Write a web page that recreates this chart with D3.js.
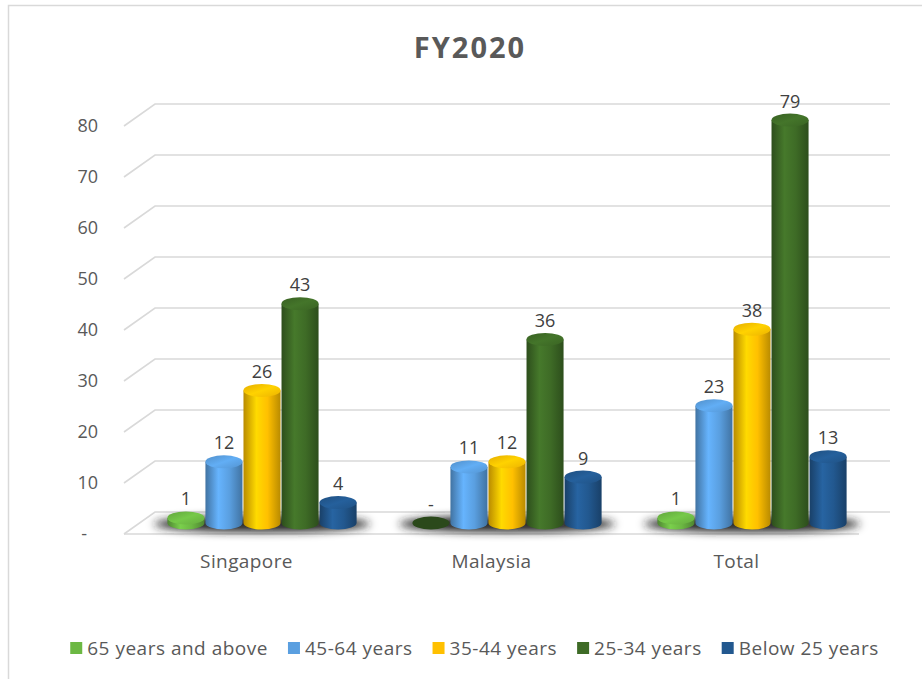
<!DOCTYPE html>
<html>
<head>
<meta charset="utf-8">
<script src="https://cdn.jsdelivr.net/npm/d3@7"></script>
<style>
  body { margin: 0; background: #fff; }
  text { font-family: "Open Sans", sans-serif; }
</style>
</head>
<body>
<svg width="922" height="679"></svg>
<script>
// data
const categories = ['Singapore', 'Malaysia', 'Total'];
const seriesNames = ['65 years and above', '45-64 years', '35-44 years', '25-34 years', 'Below 25 years'];
const above65 = [1, 0, 1];
const age45to64 = [12, 11, 23];
const age35to44 = [26, 12, 38];
const age25to34 = [43, 36, 79];
const below25 = [4, 9, 13];
const yTicks = [0, 10, 20, 30, 40, 50, 60, 70, 80];
const seriesColors = ['#6cb843', '#5a9fe0', '#ffc000', '#3e6b26', '#22588f'];

const seriesValues = [above65, age45to64, age35to44, age25to34, below25];

const svg = d3.select('svg');

// 3d box: back wall + depth offset towards the viewer
const depthX = -31, depthY = 22;
const midX = depthX / 2, midY = depthY / 2;
const ry = 6.5;

const x = d3.scaleBand().domain(categories).range([155, 890]);
const xs = d3.scaleBand().domain(seriesNames)
  .range([0, x.bandwidth()])
  .paddingInner(0).paddingOuter(0.72);
const y = d3.scaleLinear().domain([0, 80]).range([512, 104]);

// frame (right/bottom run off the picture)
svg.append('rect')
  .attr('x', 8.5).attr('y', 5.5)
  .attr('width', 940).attr('height', 700)
  .attr('fill', '#fff').attr('stroke', '#d9d9d9').attr('stroke-width', 1.5);

const defs = svg.append('defs');
defs.append('filter').attr('id', 'blur')
  .attr('x', '-30%').attr('y', '-200%').attr('width', '160%').attr('height', '500%')
  .append('feGaussianBlur').attr('stdDeviation', 4);

seriesColors.forEach((c, i) => {
  const base = d3.color(c);
  const g = defs.append('linearGradient').attr('id', 'body' + i)
    .attr('x1', 0).attr('x2', 1).attr('y1', 0).attr('y2', 0);
  [[0, base.darker(0.9)], [0.35, base.brighter(0.35)], [0.65, base], [1, base.darker(0.9)]]
    .forEach(s => g.append('stop').attr('offset', s[0]).attr('stop-color', s[1]));
  const t = defs.append('linearGradient').attr('id', 'top' + i)
    .attr('x1', 0).attr('x2', 1).attr('y1', 0).attr('y2', 1);
  [[0, base.darker(0.3)], [0.5, base.brighter(0.25)], [1, base.darker(0.2)]]
    .forEach(s => t.append('stop').attr('offset', s[0]).attr('stop-color', s[1]));
});

// title
svg.append('text')
  .attr('x', 470).attr('y', 58)
  .attr('text-anchor', 'middle')
  .attr('font-size', 29).attr('font-weight', 'bold')
  .attr('letter-spacing', 2)
  .attr('fill', '#595959')
  .text('FY2020');

// gridlines on the back wall with the left side going forward
svg.append('g').selectAll('path').data(yTicks).join('path')
  .attr('d', d => `M${x.range()[0] + depthX},${y(d) + depthY}L${x.range()[0]},${y(d)}L${x.range()[1]},${y(d)}`)
  .attr('fill', 'none').attr('stroke', '#d9d9d9').attr('stroke-width', 1.6);

// front floor edge
svg.append('path')
  .attr('d', `M${x.range()[0] + depthX},${y(0) + depthY}L${x.range()[1] + depthX},${y(0) + depthY}`)
  .attr('stroke', '#d9d9d9').attr('stroke-width', 1.6);

// y axis labels sit at the front edge
const yFront = y.copy().range(y.range().map(v => v + depthY));
const yAxis = svg.append('g')
  .attr('transform', 'translate(98,0)')
  .call(d3.axisLeft(yFront).tickValues(yTicks).tickSize(0).tickPadding(0)
    .tickFormat(d => d === 0 ? '-' : d));
yAxis.select('.domain').remove();
yAxis.selectAll('text')
  .attr('font-family', '"Open Sans", sans-serif')
  .attr('font-size', 18).attr('fill', '#595959')
  .filter(d => d === 0).attr('x', -11);

// category labels
svg.append('g').selectAll('text').data(categories).join('text')
  .attr('x', d => x(d) + x.bandwidth() / 2 + depthX)
  .attr('y', 568)
  .attr('text-anchor', 'middle')
  .attr('font-size', 19).attr('letter-spacing', 0.4).attr('fill', '#595959')
  .text(d => d);

// floor shadows
svg.append('g').selectAll('ellipse').data(categories).join('ellipse')
  .attr('cx', d => x(d) + x.bandwidth() / 2 + midX)
  .attr('cy', y(0) + midY + 1)
  .attr('rx', 108).attr('ry', 8)
  .attr('fill', '#222')
  .attr('filter', 'url(#blur)');

// cylinders
const bars = [];
categories.forEach((c, ci) => {
  seriesNames.forEach((s, si) => {
    bars.push({ cat: c, series: s, si, value: seriesValues[si][ci] });
  });
});

const r = xs.bandwidth() / 2 - 0.5;
const cxOf = d => x(d.cat) + xs(d.series) + xs.bandwidth() / 2 + midX;
const base = y(0) + midY;
const topOf = d => y(d.value) + midY;

const cyl = svg.append('g').selectAll('g').data(bars).join('g');

cyl.filter(d => d.value > 0).append('path')
  .attr('d', d => {
    const cx = cxOf(d), t = topOf(d);
    return `M${cx - r},${t}L${cx - r},${base}A${r},${ry} 0 0 0 ${cx + r},${base}L${cx + r},${t}Z`;
  })
  .attr('fill', d => `url(#body${d.si})`);

cyl.append('ellipse')
  .attr('cx', cxOf).attr('cy', topOf)
  .attr('rx', r).attr('ry', ry)
  .attr('fill', d => d.value > 0 ? `url(#top${d.si})` : d3.color(seriesColors[d.si]).darker(2.6));

// value labels
cyl.append('text')
  .attr('x', cxOf)
  .attr('y', d => topOf(d) - ry - 6)
  .attr('text-anchor', 'middle')
  .attr('font-size', 18).attr('fill', '#404040')
  .text(d => d.value === 0 ? '-' : d.value);

// legend
const legend = svg.append('g');
let lx = 0;
seriesNames.forEach((s, i) => {
  const item = legend.append('g').attr('transform', `translate(${lx},0)`);
  item.append('rect')
    .attr('x', 0).attr('y', -6).attr('width', 12).attr('height', 12)
    .attr('fill', seriesColors[i]);
  const t = item.append('text')
    .attr('x', 17).attr('y', 7)
    .attr('font-size', 19).attr('letter-spacing', 0.5).attr('fill', '#595959')
    .text(s);
  lx += 17 + t.node().getComputedTextLength() + 20;
});
const legendWidth = lx - 20;
legend.attr('transform', `translate(${474.5 - legendWidth / 2},648)`);
</script>
</body>
</html>
